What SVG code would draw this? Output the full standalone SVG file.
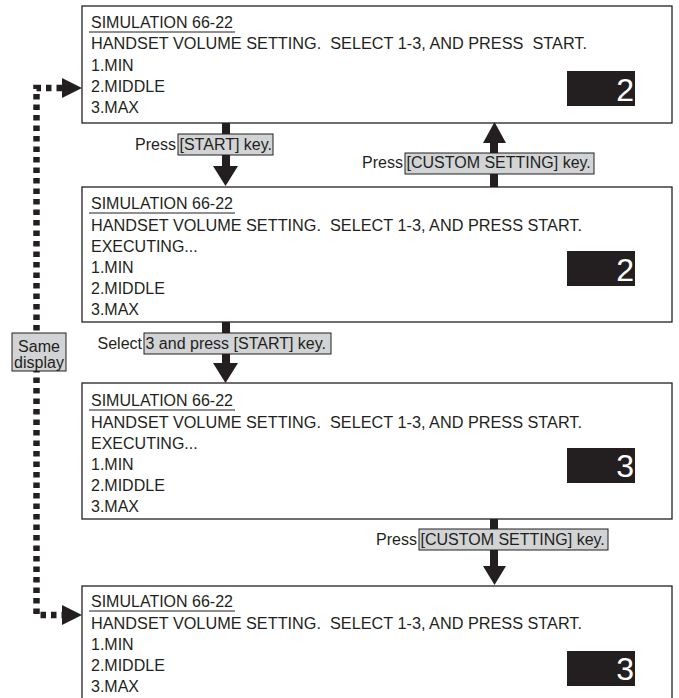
<svg xmlns="http://www.w3.org/2000/svg" width="679" height="698" viewBox="0 0 679 698">
  <defs>
    <style>
      .box { fill: #ffffff; stroke: #231f20; stroke-width: 1.3; }
      .t { font-family: "Liberation Sans", Arial, sans-serif; font-size: 16px; fill: #231f20; }
      .val { fill: #231f20; }
      .digit { font-family: "Liberation Sans", Arial, sans-serif; font-size: 32px; fill: #ffffff; text-anchor: end; }
      .ul { stroke: #231f20; stroke-width: 1.2; }
      .key { fill: #d1d3d4; stroke: #231f20; stroke-width: 1; }
      .shaft { stroke: #231f20; stroke-width: 8; fill: none; }
      .head { fill: #231f20; }
      .dots { stroke: #231f20; stroke-width: 6.5; stroke-dasharray: 5.5 5; fill: none; }
    </style>
  </defs>
  <rect width="679" height="698" fill="#ffffff"/>

  <!-- Screen 1: initial setting -->
  <g id="screen1">
    <rect class="box" x="82" y="6" width="590" height="117"/>
    <text class="t" x="91" y="28">SIMULATION 66-22</text>
    <line class="ul" x1="89" y1="32" x2="235" y2="32"/>
    <text class="t" x="91" y="49" xml:space="preserve" textLength="496" lengthAdjust="spacingAndGlyphs">HANDSET VOLUME SETTING.  SELECT 1-3, AND PRESS  START.</text>
    <text class="t" x="91" y="70.5">1.MIN</text>
    <text class="t" x="91" y="92">2.MIDDLE</text>
    <text class="t" x="91" y="113">3.MAX</text>
    <rect class="val" x="567" y="71" width="68" height="35"/>
    <text class="digit" x="634" y="101">2</text>
  </g>

  <!-- Screen 2: executing, value 2 -->
  <g id="screen2">
    <rect class="box" x="82" y="187" width="590" height="135"/>
    <text class="t" x="91" y="209">SIMULATION 66-22</text>
    <line class="ul" x1="89" y1="213" x2="235" y2="213"/>
    <text class="t" x="91" y="230.5" xml:space="preserve" textLength="491" lengthAdjust="spacingAndGlyphs">HANDSET VOLUME SETTING.  SELECT 1-3, AND PRESS START.</text>
    <text class="t" x="91" y="251.5">EXECUTING...</text>
    <text class="t" x="91" y="272.5">1.MIN</text>
    <text class="t" x="91" y="293.5">2.MIDDLE</text>
    <text class="t" x="91" y="314.5">3.MAX</text>
    <rect class="val" x="567" y="251" width="68" height="35"/>
    <text class="digit" x="634" y="281">2</text>
  </g>

  <!-- Screen 3: executing, value 3 -->
  <g id="screen3">
    <rect class="box" x="82" y="383" width="590" height="136"/>
    <text class="t" x="91" y="406">SIMULATION 66-22</text>
    <line class="ul" x1="89" y1="410" x2="235" y2="410"/>
    <text class="t" x="91" y="427.5" xml:space="preserve" textLength="491" lengthAdjust="spacingAndGlyphs">HANDSET VOLUME SETTING.  SELECT 1-3, AND PRESS START.</text>
    <text class="t" x="91" y="448.5">EXECUTING...</text>
    <text class="t" x="91" y="469.5">1.MIN</text>
    <text class="t" x="91" y="490.5">2.MIDDLE</text>
    <text class="t" x="91" y="511.5">3.MAX</text>
    <rect class="val" x="567" y="448" width="68" height="35"/>
    <text class="digit" x="634" y="477">3</text>
  </g>

  <!-- Screen 4: back to setting, value 3 -->
  <g id="screen4">
    <rect class="box" x="82" y="586" width="590" height="120"/>
    <text class="t" x="91" y="607">SIMULATION 66-22</text>
    <line class="ul" x1="89" y1="611" x2="235" y2="611"/>
    <text class="t" x="91" y="628.5" xml:space="preserve" textLength="491" lengthAdjust="spacingAndGlyphs">HANDSET VOLUME SETTING.  SELECT 1-3, AND PRESS START.</text>
    <text class="t" x="91" y="650">1.MIN</text>
    <text class="t" x="91" y="671">2.MIDDLE</text>
    <text class="t" x="91" y="692">3.MAX</text>
    <rect class="val" x="567" y="651" width="68" height="35"/>
    <text class="digit" x="634" y="680">3</text>
  </g>

  <!-- Transitions between screens -->
  <g id="connectors">
    <!-- 1 -> 2 -->
    <line class="shaft" x1="226" y1="123" x2="226" y2="167"/>
    <polygon class="head" points="213,166 238,166 225.5,186"/>
    <!-- 2 -> 1 -->
    <line class="shaft" x1="494" y1="187" x2="494" y2="141"/>
    <polygon class="head" points="483,143 506,143 494.5,122"/>
    <!-- 2 -> 3 -->
    <line class="shaft" x1="226" y1="322" x2="226" y2="364"/>
    <polygon class="head" points="213,363 238,363 225.5,383"/>
    <!-- 3 -> 4 -->
    <line class="shaft" x1="494" y1="519" x2="494" y2="567"/>
    <polygon class="head" points="483,566 506,566 494.5,585"/>
    <!-- same-display link -->
    <path class="dots" d="M 62 88 H 36.5 V 615 H 62"/>
    <polygon class="head" points="62,78 82,88 62,98"/>
    <polygon class="head" points="62,605 82,615 62,625"/>
  </g>

  <!-- Key labels -->
  <g id="label-start">
    <text class="t" x="176" y="150" text-anchor="end">Press</text>
    <rect class="key" x="178" y="134" width="95" height="21"/>
    <text class="t" x="179.5" y="150">[START] key.</text>
  </g>
  <g id="label-custom-up">
    <text class="t" x="403" y="168" text-anchor="end">Press</text>
    <rect class="key" x="405" y="153" width="189" height="21"/>
    <text class="t" x="406.5" y="168">[CUSTOM SETTING] key.</text>
  </g>
  <g id="label-select">
    <text class="t" x="142" y="348.5" text-anchor="end">Select</text>
    <rect class="key" x="144" y="333" width="187" height="21"/>
    <text class="t" x="145.5" y="348.5">3 and press [START] key.</text>
  </g>
  <g id="label-custom-down">
    <text class="t" x="417" y="545" text-anchor="end">Press</text>
    <rect class="key" x="419" y="529" width="189" height="21"/>
    <text class="t" x="420.5" y="545">[CUSTOM SETTING] key.</text>
  </g>
  <g id="label-same">
    <rect class="key" x="12" y="333" width="54" height="38"/>
    <text class="t" x="39" y="351.5" text-anchor="middle">Same</text>
    <text class="t" x="39" y="367.5" text-anchor="middle">display</text>
  </g>
</svg>
